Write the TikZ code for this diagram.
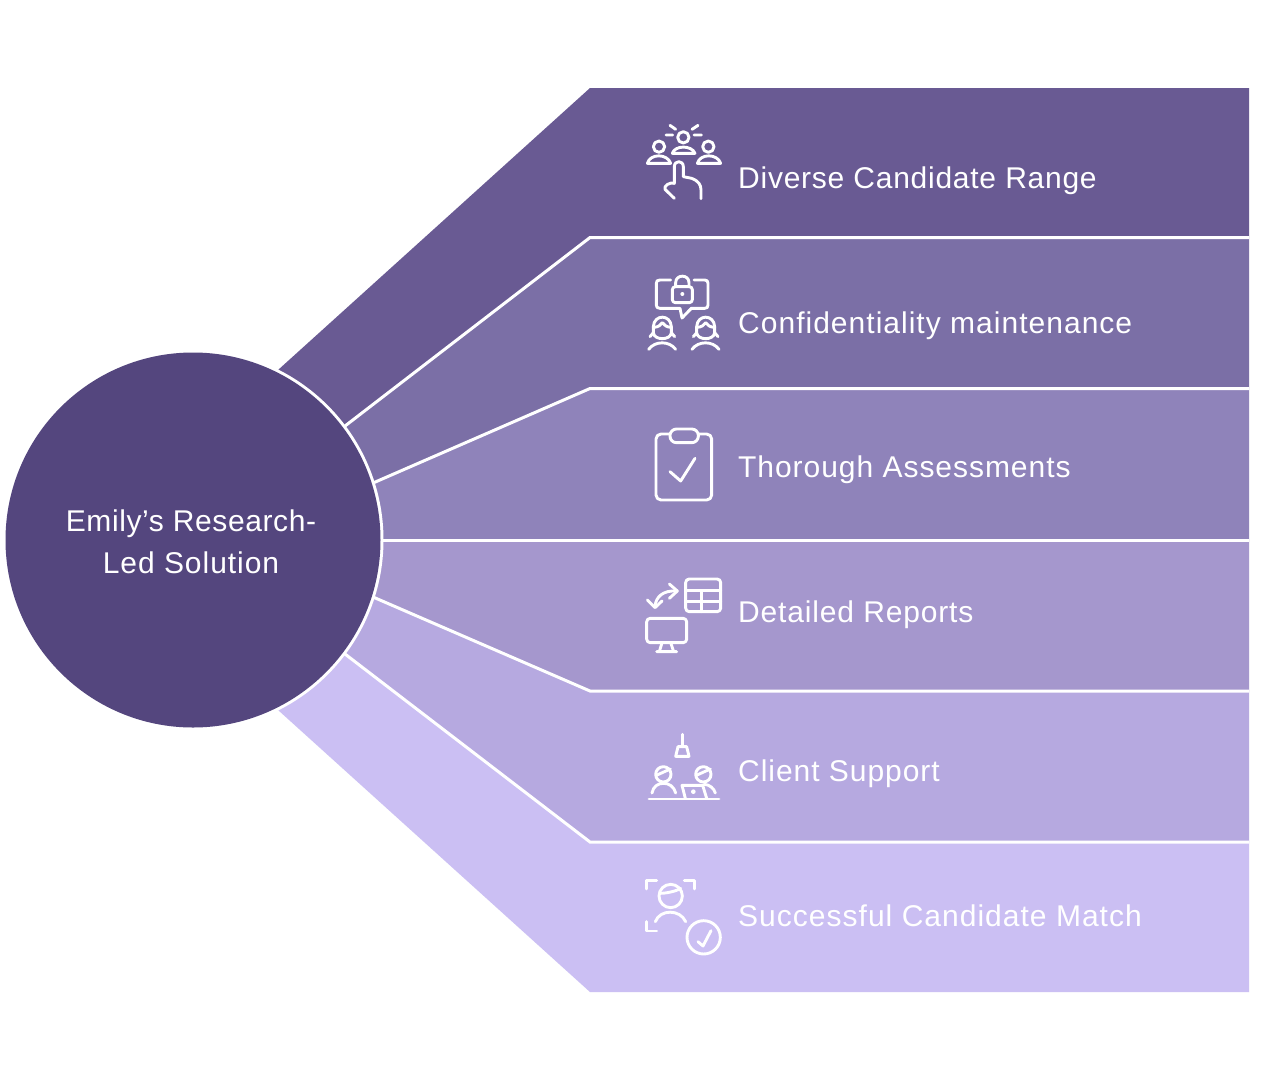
\documentclass[tikz,border=0pt]{standalone}
\usepackage{fontspec}
\setmainfont{Liberation Sans}[LetterSpace=3.2]
\newcommand{\spaced}[1]{\addfontfeature{LetterSpace=#1}}
\definecolor{bandA}{HTML}{695A93}
\definecolor{bandB}{HTML}{7B6FA6}
\definecolor{bandC}{HTML}{8F83BA}
\definecolor{bandD}{HTML}{A597CD}
\definecolor{bandE}{HTML}{B6A9E0}
\definecolor{bandF}{HTML}{CBBFF3}
\definecolor{hub}{HTML}{54467E}
\tikzset{
  label text/.style={anchor=base west,text=white,inner sep=0pt,font=\fontsize{30}{35}\selectfont},
  hub text/.style={anchor=base,text=white,inner sep=0pt,font=\fontsize{30}{35}\selectfont},
  divider/.style={draw=white,line width=3pt},
  icon/.style={draw=white,line width=2.9pt,line cap=round,line join=round},
  zoomA/.style={shift={(630,110)},x=0.33333pt,y=-0.33333pt},
  zoomB/.style={shift={(630,420)},x=0.33333pt,y=-0.33333pt},
  zoomC/.style={shift={(630,725)},x=0.33333pt,y=-0.33333pt},
}
\begin{document}
\begin{tikzpicture}[x=1pt,y=-1pt]
\useasboundingbox (0,0) rectangle (1261,1080);
\fill[white] (0,0) rectangle (1261,1080);
\coordinate (c) at (193,540);
\coordinate (a0) at (278,370);
\coordinate (a1) at (345,426);
\coordinate (a2) at (373,483);
\coordinate (a3) at (380,540);
\coordinate (a4) at (373,597);
\coordinate (a5) at (345,654);
\coordinate (a6) at (278,710);
\coordinate (b0) at (590,88);
\coordinate (b1) at (590,237.5);
\coordinate (b2) at (590,388.5);
\coordinate (b3) at (590,540);
\coordinate (b4) at (590,691);
\coordinate (b5) at (590,842);
\coordinate (b6) at (590,992);
\coordinate (e0) at (1249,88);
\coordinate (e1) at (1249,237.5);
\coordinate (e2) at (1249,388.5);
\coordinate (e3) at (1249,540);
\coordinate (e4) at (1249,691);
\coordinate (e5) at (1249,842);
\coordinate (e6) at (1249,992);
\fill[bandA] (c)--(a0)--(b0)--(e0)--(e1)--(b1)--(a1)--cycle;
\fill[bandB] (c)--(a1)--(b1)--(e1)--(e2)--(b2)--(a2)--cycle;
\fill[bandC] (c)--(a2)--(b2)--(e2)--(e3)--(b3)--(a3)--cycle;
\fill[bandD] (c)--(a3)--(b3)--(e3)--(e4)--(b4)--(a4)--cycle;
\fill[bandE] (c)--(a4)--(b4)--(e4)--(e5)--(b5)--(a5)--cycle;
\fill[bandF] (c)--(a5)--(b5)--(e5)--(e6)--(b6)--(a6)--cycle;
\draw[divider] (a1)--(b1)--(e1);
\draw[divider] (a2)--(b2)--(e2);
\draw[divider] (a3)--(b3)--(e3);
\draw[divider] (a4)--(b4)--(e4);
\draw[divider] (a5)--(b5)--(e5);
\fill[white] (c) circle[radius=190.5];
\fill[hub] (c) circle[radius=187.5];
\node[hub text] (h1) at (191,531) {\spaced{2.0}Emily’s Research-};
\node[hub text] (h2) at (191,573) {Led Solution};
\node[label text] (t1) at (738,188) {\spaced{2.5}Diverse Candidate Range};
\node[label text] (t2) at (738,333) {\spaced{3.4}Confidentiality maintenance};
\node[label text] (t3) at (738,477) {Thorough Assessments};
\node[label text] (t4) at (738,622) {\spaced{2.8}Detailed Reports};
\node[label text] (t5) at (738,781) {Client Support};
\node[label text] (t6) at (738,926) {\spaced{3.4}Successful Candidate Match};
% icon 1
\begin{scope}[zoomA]
\draw[icon] (160,82) circle[radius=17];
\draw[icon] (87,110) circle[radius=17];
\draw[icon] (235,110) circle[radius=17];
\draw[icon] (127,130) .. controls (135,105) and (185,105) .. (195,130) -- cycle;
\draw[icon] (52,160) .. controls (60,130) and (112,130) .. (122,160) -- cycle;
\draw[icon] (202,160) .. controls (210,130) and (262,130) .. (272,160) -- cycle;
\draw[icon] (108,75)--(128,75) (120,46)--(137,58) (204,46)--(186,58) (192,75)--(214,75);
\draw[icon] (133,265)--(105,238) .. controls (100,228) and (120,215) .. (133,220) -- (133,170) .. controls (133,150) and (160,150) .. (160,170) -- (160,200) -- (185,205) .. controls (205,212) and (213,225) .. (213,240) -- (213,266);
% icon 2
\draw[icon] (122,510) -- (90,510) .. controls (82,510) and (79,513) .. (79,520) -- (79,585) .. controls (79,592) and (82,595) .. (90,595) -- (150,595) -- (156,624) -- (184,595) -- (224,595) .. controls (231,595) and (234,592) .. (234,585) -- (234,520) .. controls (234,513) and (231,510) .. (224,510) -- (192,510);
\draw[icon,rounded corners=3pt] (127,530) rectangle (187,578);
\draw[icon] (137,530) -- (137,518) .. controls (137,492) and (177,492) .. (177,518) -- (177,530);
\fill[white] (157,552) circle[radius=6];
\foreach \dx in {0,130}{
  \begin{scope}[xshift=\dx*0.33333pt]
  \draw[icon] (70,650) .. controls (72,612) and (122,612) .. (124,650) -- (124,668) .. controls (122,692) and (72,692) .. (70,668) -- cycle;
  \draw[icon] (70,652) .. controls (85,652) and (92,645) .. (97,638) .. controls (102,645) and (110,652) .. (124,652);
  \draw[icon] (70,668) -- (60,680) (124,668) -- (134,680);
  \draw[icon] (56,718) .. controls (75,692) and (118,692) .. (137,718);
  \end{scope}
}
\end{scope}
% icon 3, 4
\begin{scope}[zoomB]
\draw[icon,rounded corners=5pt] (78,42) rectangle (245,240);
\draw[icon,fill=bandC,rounded corners=6.5pt] (120,27) rectangle (205,68);
\draw[icon] (120,155)--(152,183)--(195,115);
\draw[icon,rounded corners=3.5pt] (167,477) rectangle (272,575);
\draw[icon] (167,512)--(272,512) (167,545)--(272,545) (215,512)--(215,575);
\draw[icon] (141,513) .. controls (100,510) and (76,530) .. (75,562);
\draw[icon] (118,492)--(142,513)--(118,535);
\draw[icon] (52,540)--(75,563)--(96,543);
\draw[icon,rounded corners=3.5pt] (50,595) rectangle (170,668);
\draw[icon] (96,668)--(88,695) (122,668)--(131,695) (80,695)--(140,695);
\end{scope}
% icon 5, 6
\begin{scope}[zoomC]
\draw[icon] (157,28)--(157,65);
\draw[icon] (144,65)--(170,65)--(177,94)--(137,94)--cycle;
\draw[icon] (100,148) circle[radius=23];
\draw[icon] (220,148) circle[radius=23];
\draw[icon] (79,151)--(121,132) (199,151)--(241,132);
\draw[icon] (66,204) .. controls (72,165) and (128,165) .. (137,204);
\draw[icon] (222,178) .. controls (238,178) and (252,190) .. (256,204);
\draw[icon] (57,222)--(267,222);
\draw[icon] (166,220)--(156,181)--(218,181)--(230,220);
\fill[white] (190,200) circle[radius=7];
\draw[icon] (50,492)--(50,467)--(80,467) (163,467)--(193,467)--(193,492) (50,590)--(50,618)--(80,618);
\draw[icon] (122,513) circle[radius=35];
\draw[icon] (90,505) .. controls (110,505) and (140,498) .. (152,490);
\draw[icon] (76,590) .. controls (90,552) and (150,552) .. (167,590);
\draw[icon] (221,637) circle[radius=50];
\draw[icon] (204,650)--(219,663)--(243,617);
\end{scope}
\end{tikzpicture}
\end{document}
